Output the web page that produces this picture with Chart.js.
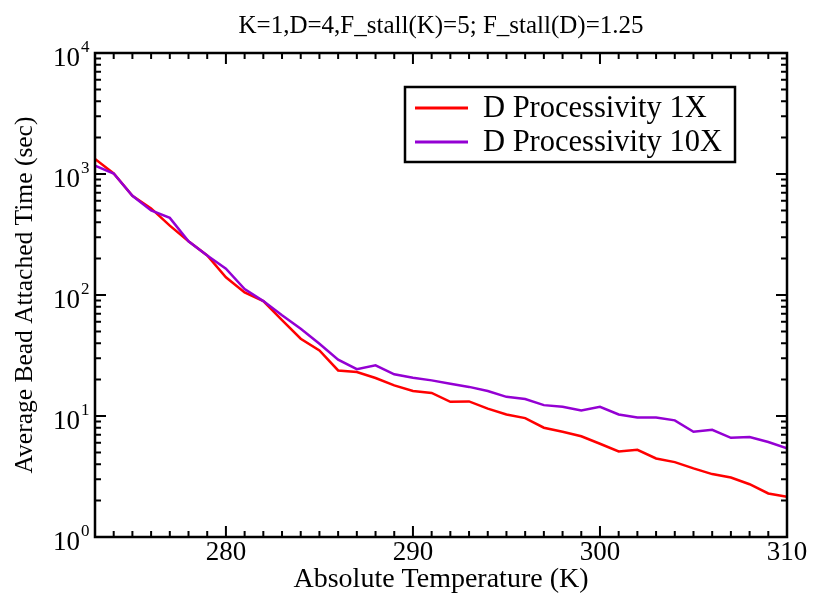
<!DOCTYPE html>
<html>
<head>
<meta charset="utf-8">
<title>Average Bead Attached Time vs Temperature</title>
<script src="https://cdn.jsdelivr.net/npm/chart.js@4.4.1/dist/chart.umd.min.js"></script>
<style>
  html, body { margin: 0; padding: 0; background: #fff; }
  #wrap { width: 813px; height: 608px; }
</style>
</head>
<body>
<div id="wrap"><canvas id="beadChart" width="813" height="608"></canvas></div>
<script>
// values (log scale, seconds)
const temperatures = [273, 274, 275, 276, 277, 278, 279, 280, 281, 282, 283, 284, 285,
    286, 287, 288, 289, 290, 291, 292, 293, 294, 295, 296, 297, 298, 299, 300,
    301, 302, 303, 304, 305, 306, 307, 308, 309, 310];
const processivity1X = [1330, 1010, 660, 520, 374, 278, 212, 140, 105, 89, 62, 43.5, 34.8,
    23.8, 23.1, 20.6, 17.9, 16.1, 15.5, 13.1, 13.2, 11.5, 10.3, 9.6, 8.0, 7.4, 6.8, 5.9,
    5.1, 5.25, 4.46, 4.16, 3.69, 3.31, 3.1, 2.73, 2.29, 2.15];
const processivity10X = [1170, 1010, 660, 500, 434, 278, 212, 165, 112, 89, 68, 52.6, 39.6,
    29.2, 24.4, 26.2, 22.1, 20.7, 19.7, 18.5, 17.4, 16.1, 14.4, 13.8, 12.3, 11.9, 11.1, 11.9,
    10.3, 9.7, 9.7, 9.2, 7.4, 7.7, 6.6, 6.7, 6.1, 5.4];
const seriesLabels = ["D Processivity 1X", "D Processivity 10X"];
const seriesColors = ["rgb(255, 0, 0)", "rgb(148, 0, 211)"];
const yDecades = [1, 10, 100, 1000, 10000];
const yExponents = ["0", "1", "2", "3", "4"];
const chartTitle = "K=1,D=4,F_stall(K)=5; F_stall(D)=1.25";

const serif = "'Liberation Serif', 'Times New Roman', serif";
Chart.defaults.font.family = serif;
Chart.defaults.color = "#000";

function points(values) {
    return temperatures.map((t, i) => ({ x: t, y: values[i] }));
}

// frame, inward ticks, 10^n labels and boxed legend, like the original plot
const frameTicks = {
    id: "frameTicks",
    afterDraw(chart) {
        const { ctx, chartArea: a, scales: { x, y } } = chart;
        ctx.save();
        ctx.strokeStyle = "#000";
        ctx.lineCap = "butt";

        // x ticks, top and bottom
        ctx.lineWidth = 2;
        x.ticks.forEach(tick => {
            const px = x.getPixelForValue(tick.value);
            const len = tick.value % 10 === 0 ? 11 : 6;
            ctx.beginPath();
            ctx.moveTo(px, a.bottom);
            ctx.lineTo(px, a.bottom - len);
            ctx.moveTo(px, a.top);
            ctx.lineTo(px, a.top + len);
            ctx.stroke();
        });

        // y ticks, left and right
        yDecades.forEach((d, i) => {
            const py = y.getPixelForValue(d);
            ctx.beginPath();
            ctx.moveTo(a.left, py);
            ctx.lineTo(a.left + 11, py);
            ctx.moveTo(a.right, py);
            ctx.lineTo(a.right - 11, py);
            ctx.stroke();
            if (i < yDecades.length - 1) {
                for (let m = 2; m <= 9; m++) {
                    const pm = y.getPixelForValue(d * m);
                    ctx.beginPath();
                    ctx.moveTo(a.left, pm);
                    ctx.lineTo(a.left + 6, pm);
                    ctx.moveTo(a.right, pm);
                    ctx.lineTo(a.right - 6, pm);
                    ctx.stroke();
                }
            }
        });

        // frame
        ctx.lineWidth = 2.5;
        ctx.strokeRect(a.left, a.top, a.right - a.left, a.bottom - a.top);

        // y labels as 10 with superscript
        ctx.fillStyle = "#000";
        ctx.textBaseline = "alphabetic";
        yDecades.forEach((d, i) => {
            const py = y.getPixelForValue(d);
            ctx.font = "27px " + serif;
            ctx.textAlign = "right";
            ctx.fillText("10", a.left - 15, py + 13);
            ctx.font = "17px " + serif;
            ctx.textAlign = "left";
            ctx.fillText(yExponents[i], a.left - 14, py - 1);
        });

        // legend box
        const bx = a.left + 310, by = a.top + 34, bw = 330, bh = 75;
        ctx.lineWidth = 2.5;
        ctx.strokeRect(bx, by, bw, bh);
        ctx.font = "30.5px " + serif;
        ctx.textAlign = "left";
        seriesLabels.forEach((label, i) => {
            const ly = by + 21 + i * 34;
            ctx.strokeStyle = seriesColors[i];
            ctx.lineWidth = 3;
            ctx.beginPath();
            ctx.moveTo(bx + 10, ly);
            ctx.lineTo(bx + 63, ly);
            ctx.stroke();
            ctx.fillText(label, bx + 78, ly + 9);
        });
        ctx.restore();
    }
};

const ctx = document.getElementById("beadChart").getContext("2d");

new Chart(ctx, {
    type: "line",
    data: {
        datasets: [{
            label: seriesLabels[0],
            data: points(processivity1X),
            borderColor: seriesColors[0],
            borderWidth: 2.5,
            pointRadius: 0,
            tension: 0,
            fill: false,
            order: 2,
        }, {
            label: seriesLabels[1],
            data: points(processivity10X),
            borderColor: seriesColors[1],
            borderWidth: 2.5,
            pointRadius: 0,
            tension: 0,
            fill: false,
            order: 1,
        }],
    },
    options: {
        responsive: false,
        animation: false,
        devicePixelRatio: 1,
        layout: { padding: { left: 0, right: 26, top: 0, bottom: 0 } },
        plugins: {
            legend: { display: false },
            tooltip: { enabled: false },
            title: {
                display: true,
                fullSize: false,
                text: chartTitle,
                color: "#000",
                font: { size: 25, weight: "normal", family: serif },
                padding: { top: 11, bottom: 12 },
            },
        },
        scales: {
            x: {
                type: "linear",
                min: 273,
                max: 310,
                grid: { display: false, drawTicks: false },
                border: { display: false },
                ticks: {
                    stepSize: 1,
                    autoSkip: false,
                    maxRotation: 0,
                    padding: 0,
                    font: { size: 27 },
                    callback: v => (v % 10 === 0 ? String(v) : ""),
                },
                title: {
                    display: true,
                    text: "Absolute Temperature (K)",
                    font: { size: 28 },
                    padding: { top: 0, bottom: 12 },
                },
                afterFit(scale) { scale.height = 71; },
            },
            y: {
                type: "logarithmic",
                min: 1,
                max: 10000,
                grid: { display: false, drawTicks: false },
                border: { display: false },
                ticks: { display: false },
                title: {
                    display: true,
                    text: "Average Bead Attached Time (sec)",
                    font: { size: 25.5 },
                    padding: { top: 10, bottom: 0 },
                },
                afterFit(scale) { scale.width = 95; },
            },
        },
    },
    plugins: [frameTicks],
});
</script>
</body>
</html>
